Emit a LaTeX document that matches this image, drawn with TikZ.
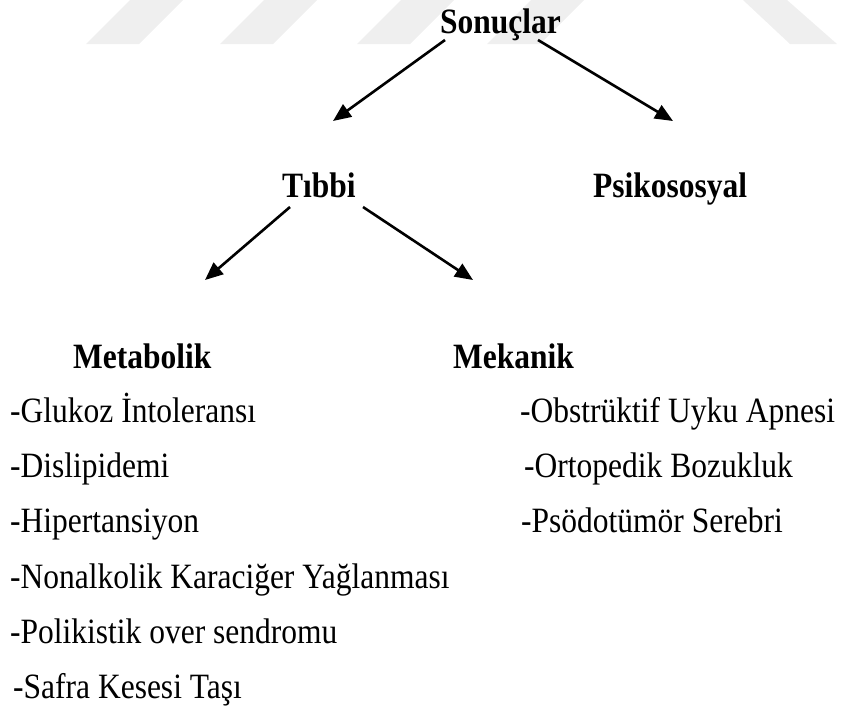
\documentclass[tikz,border=0pt]{standalone}
\usepackage{fontspec}
\setmainfont{Liberation Serif}
\usetikzlibrary{arrows.meta,positioning}
\definecolor{wmgray}{HTML}{EFEFEF}
\newcommand\tallbox[1]{\scalebox{1}[1.13]{#1}}

\begin{document}
\begin{tikzpicture}[x=1pt, y=-1pt,
    head/.style={font=\fontsize{31.5}{36}\selectfont\bfseries, anchor=base west, inner sep=0pt},
    item/.style={font=\fontsize{31.5}{36}\selectfont, anchor=base west, inner sep=0pt},
    link/.style={-{Triangle[length=18pt, width=15pt]}, line width=2.6pt},
]
\useasboundingbox (0,0) rectangle (841,705);
% watermark stripes
\foreach \xb in {86,220,357,487}
  \fill[wmgray] (\xb,44) -- (\xb+53,44) -- (\xb+97,0) -- (\xb+44,0) -- cycle;
\fill[wmgray] (743,0) -- (787,0) -- (837,44) -- (790,44) -- cycle;

% headings
\node[head] (son) at (440,33) {\tallbox{Sonuçlar}};
\node[head] (tib) at (282,197) {\tallbox{Tıbbi}};
\node[head] (psi) at (593,197) {\tallbox{Psikososyal}};
\node[head] (met) at (73,368) {\tallbox{Metabolik}};
\node[head] (mek) at (453,368) {\tallbox{Mekanik}};

% metabolik list
\node[item] (glukoz) at (10,422) {\tallbox{-Glukoz İntoleransı}};
\node[item] (dislip) at (10,477) {\tallbox{-Dislipidemi}};
\node[item] (hipert) at (10,532) {\tallbox{-Hipertansiyon}};
\node[item] (nafld)  at (10,588) {\tallbox{-Nonalkolik Karaciğer Yağlanması}};
\node[item] (pkos)   at (10,643) {\tallbox{-Polikistik over sendromu}};
\node[item] (safra)  at (13,698) {\tallbox{-Safra Kesesi Taşı}};

% mekanik list
\node[item] (osa)   at (520,422) {\tallbox{-Obstrüktif Uyku Apnesi}};
\node[item] (ortop) at (524,477) {\tallbox{-Ortopedik Bozukluk}};
\node[item] (psodo) at (521,532) {\tallbox{-Psödotümör Serebri}};

% arrow ends
\coordinate (son-l) at (445,40);
\coordinate (son-r) at (538,40);
\coordinate (tib-in) at (333,121);
\coordinate (psi-in) at (673,121);
\coordinate (tib-l) at (290,207);
\coordinate (tib-r) at (363,207);
\coordinate (met-in) at (205,280);
\coordinate (mek-in) at (473,280);

\draw[link] (son-l) -- (tib-in);
\draw[link] (son-r) -- (psi-in);
\draw[link] (tib-l) -- (met-in);
\draw[link] (tib-r) -- (mek-in);
\end{tikzpicture}
\end{document}
